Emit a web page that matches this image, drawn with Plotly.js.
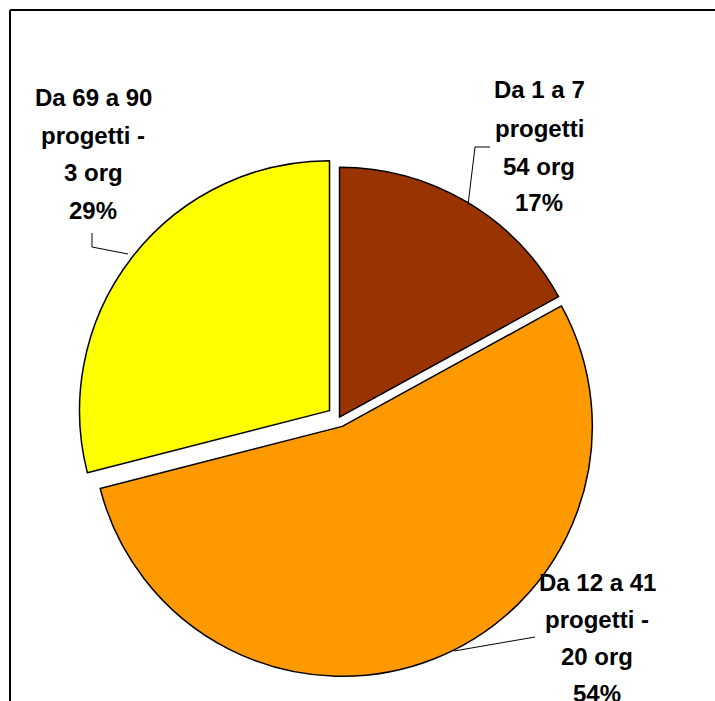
<!DOCTYPE html>
<html>
<head>
<meta charset="utf-8">
<script src="https://cdn.plot.ly/plotly-3.0.1.min.js"></script>
<style>
  html, body { margin: 0; padding: 0; background: #ffffff; }
  #chart { width: 715px; height: 701px; }
</style>
</head>
<body>
<div id="chart"></div>
<script>
// ---- data ----
var ranges = ['Da 1 a 7', 'Da 12 a 41', 'Da 69 a 90'];
var rangeSuffix = ['progetti', 'progetti -', 'progetti -'];
var orgs = [54, 20, 3];
var percents = [17, 54, 29];
var sliceColors = ['#993300', '#FF9900', '#FFFF00'];
var slicePull = [0.004, 0.036, 0.048];

// ---- layout helpers (pixel -> paper, margins are 0) ----
var W = 715, H = 701;
function px(x) { return x / W; }
function py(y) { return 1 - y / H; }

// label block positions (pixel centres of each text line) and leader lines
var labelPos = [
  { x: 539, ys: [89, 128, 166, 203] },
  { x: 597, ys: [582, 619, 656, 693] },
  { x: 93,  ys: [97, 135, 172, 210] }
];
var leaders = [
  [[490, 147], [475, 147], [468, 205]],
  [[535, 637], [454, 651]],
  [[92, 233], [92, 247], [128, 254]]
];

var annotations = [];
for (var i = 0; i < ranges.length; i++) {
  var lines = [ranges[i], rangeSuffix[i], orgs[i] + ' org', percents[i] + '%'];
  for (var j = 0; j < lines.length; j++) {
    annotations.push({
      xref: 'paper', yref: 'paper',
      x: px(labelPos[i].x), y: py(labelPos[i].ys[j]),
      xanchor: 'center', yanchor: 'middle',
      text: '<b>' + lines[j] + '</b>',
      showarrow: false,
      font: { family: 'Liberation Sans, Arial, sans-serif', size: 24, color: '#000000' }
    });
  }
}

var shapes = [];
leaders.forEach(function (pts) {
  var d = pts.map(function (p, k) { return (k ? 'L' : 'M') + px(p[0]) + ',' + py(p[1]); }).join(' ');
  shapes.push({ type: 'path', xref: 'paper', yref: 'paper', path: d,
    line: { color: '#000000', width: 1 } });
});
// chart frame (top and left edges)
shapes.push({ type: 'line', xref: 'paper', yref: 'paper',
  x0: px(10), y0: py(10), x1: 1, y1: py(10), line: { color: '#000000', width: 2 } });
shapes.push({ type: 'line', xref: 'paper', yref: 'paper',
  x0: px(10), y0: py(10), x1: px(10), y1: 0, line: { color: '#000000', width: 2 } });

// pie geometry
var cx = 339, cy = 418, r = 250;
var half = r * (1 + Math.max.apply(null, slicePull));

var trace = {
  type: 'pie',
  labels: ranges,
  values: percents,
  sort: false,
  direction: 'clockwise',
  rotation: 0,
  pull: slicePull,
  marker: { colors: sliceColors, line: { color: '#000000', width: 1.5 } },
  textinfo: 'none',
  hoverinfo: 'skip',
  showlegend: false,
  domain: {
    x: [px(cx - half), px(cx + half)],
    y: [py(cy + half), py(cy - half)]
  }
};

var layout = {
  width: W, height: H,
  margin: { l: 0, r: 0, t: 0, b: 0 },
  paper_bgcolor: '#ffffff',
  plot_bgcolor: '#ffffff',
  showlegend: false,
  annotations: annotations,
  shapes: shapes
};

Plotly.newPlot('chart', [trace], layout, { displayModeBar: false, staticPlot: true });
</script>
</body>
</html>
